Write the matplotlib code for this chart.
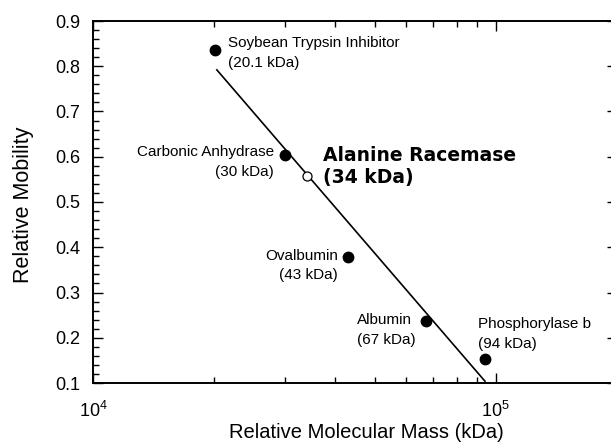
import matplotlib
matplotlib.use("Agg")
import matplotlib.pyplot as plt
from matplotlib.ticker import LogLocator, MultipleLocator, NullFormatter

plt.rcParams['font.family'] = ['Liberation Sans', 'DejaVu Sans']

# Data
proteins = ["Soybean Trypsin Inhibitor", "Carbonic Anhydrase", "Ovalbumin", "Albumin", "Phosphorylase b"]
mass_labels = ["(20.1 kDa)", "(30 kDa)", "(43 kDa)", "(67 kDa)", "(94 kDa)"]
masses = [20100, 30000, 43000, 67000, 94000]
mobility = [0.836, 0.604, 0.378, 0.237, 0.153]

unknown_name = "Alanine Racemase"
unknown_label = "(34 kDa)"
unknown_mass = 34000
unknown_mobility = 0.557

fit_x = [20300, 94000]
fit_y = [0.792, 0.104]

fig = plt.figure(figsize=(6.11, 4.45), dpi=100)
ax = fig.add_axes([93/611, (445-383)/445, (617-93)/611, (383-21)/445])

ax.set_xscale('log')
ax.set_xlim(1e4, 2e5)
ax.set_ylim(0.1, 0.9)

ax.plot(fit_x, fit_y, color='black', lw=1.2, zorder=2)
ax.plot(masses, mobility, 'o', color='black', ms=7.5, zorder=3)
ax.plot([unknown_mass], [unknown_mobility], 'o', mfc='white', mec='black', mew=0.9, ms=6.5, zorder=4)

fs = 11
def lab(txt, x, y, dx, dy, ha, **kw):
    ax.annotate(txt, (x, y), xytext=(dx, dy), textcoords='offset pixels',
                ha=ha, va='center', fontsize=kw.pop('size', fs), **kw)

# Soybean
lab(proteins[0], masses[0], mobility[0], 13, 7, 'left')
lab(mass_labels[0], masses[0], mobility[0], 13, -13, 'left')
# Carbonic anhydrase
lab(proteins[1], masses[1], mobility[1], -11, 3, 'right')
lab(mass_labels[1], masses[1], mobility[1], -11, -17, 'right')
# Ovalbumin
lab(proteins[2], masses[2], mobility[2], -10, 1, 'right')
lab(mass_labels[2], masses[2], mobility[2], -10, -18, 'right')
# Albumin
lab(proteins[3], masses[3], mobility[3], -69, 1, 'left')
lab(mass_labels[3], masses[3], mobility[3], -69, -19, 'left')
# Phosphorylase b
lab(proteins[4], masses[4], mobility[4], -7, 35, 'left')
lab(mass_labels[4], masses[4], mobility[4], -7, 15, 'left')
# Unknown
lab(unknown_name, unknown_mass, unknown_mobility, 16, 21, 'left', size=13.5,
    fontweight='bold', family='DejaVu Sans')
lab(unknown_label, unknown_mass, unknown_mobility, 16, -1, 'left', size=13.5,
    fontweight='bold', family='DejaVu Sans')

# Ticks
ax.xaxis.set_major_locator(LogLocator(base=10, numticks=10))
ax.xaxis.set_minor_locator(LogLocator(base=10, subs=range(2, 10), numticks=20))
ax.xaxis.set_minor_formatter(NullFormatter())
ax.yaxis.set_major_locator(MultipleLocator(0.1))
ax.yaxis.set_minor_locator(MultipleLocator(0.02))
ax.yaxis.set_major_formatter(plt.FuncFormatter(lambda v, p: f"{v:.1f}"))

ax.tick_params(axis='both', which='both', direction='in', colors='black', width=1.0)
ax.tick_params(axis='x', which='major', length=7, top=True, bottom=True, labelsize=13, pad=13)
ax.tick_params(axis='x', which='minor', length=4, top=True, bottom=True)
ax.tick_params(axis='y', which='major', length=7, left=True, right=True, labelsize=13, pad=9)
ax.tick_params(axis='y', which='minor', length=4, left=True, right=False)

for s in ax.spines.values():
    s.set_linewidth(1.4)

ax.set_xlabel("Relative Molecular Mass (kDa)", fontsize=14.5)
ax.set_ylabel("Relative Mobility", fontsize=15.5)
ax.xaxis.set_label_coords((366-93)/(617-93), -(423-383)/362)
ax.yaxis.set_label_coords(-(93-34)/(617-93), (383-205)/362)

fig.savefig("out.png", dpi=100)
